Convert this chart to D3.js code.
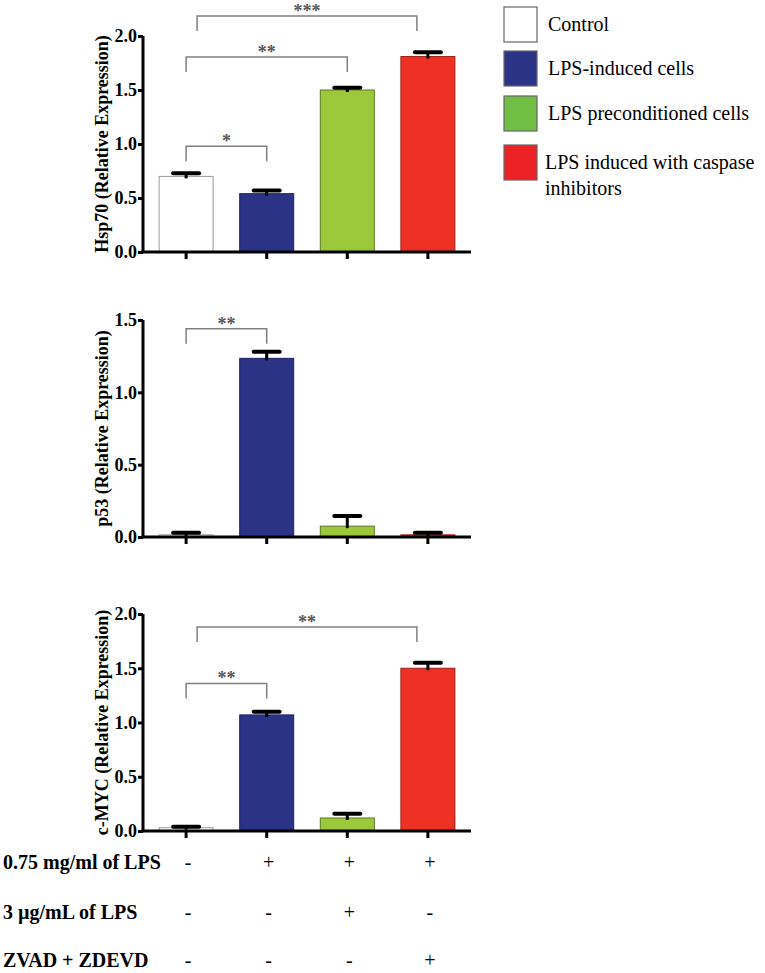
<!DOCTYPE html>
<html>
<head>
<meta charset="utf-8">
<script src="https://cdn.jsdelivr.net/npm/d3@7"></script>
<style>
  body { margin: 0; background: #fff; }
  svg { display: block; }
  .tick text { font-family: "Liberation Serif", "Times New Roman", serif; font-weight: bold; font-size: 18px; fill: #000; }
</style>
</head>
<body>
<svg id="chart" width="765" height="973"></svg>
<script>
// groups / legend entries
const groups = ["Control", "LPS-induced cells", "LPS preconditioned cells", "LPS induced with caspase inhibitors"];

// panel values (mean, upper error)
const hsp70Mean = [0.70, 0.54, 1.50, 1.81];
const hsp70Err = [0.03, 0.03, 0.02, 0.04];
const p53Mean = [0.015, 1.235, 0.075, 0.015];
const p53Err = [0.015, 0.045, 0.07, 0.015];
const mycMean = [0.03, 1.07, 0.12, 1.50];
const mycErr = [0.01, 0.03, 0.04, 0.05];

const hsp70Ticks = [0.0, 0.5, 1.0, 1.5, 2.0];
const p53Ticks = [0.0, 0.5, 1.0, 1.5];
const mycTicks = [0.0, 0.5, 1.0, 1.5, 2.0];

// significance brackets: [from group, to group, level, label]
const hsp70Sig = [[0, 3, 2.185, "***"], [0, 2, 1.805, "**"], [0, 1, 0.98, "*"]];
const p53Sig = [[0, 1, 1.44, "**"]];
const mycSig = [[0, 3, 1.88, "**"], [0, 1, 1.36, "**"]];

// treatment table
const treatments = ["0.75 mg/ml of LPS", "3 \u00b5g/mL of LPS", "ZVAD + ZDEVD"];
const lps075 = ["-", "+", "+", "+"];
const lps3 = ["-", "-", "+", "-"];
const zvad = ["-", "-", "-", "+"];

const barColors = ["#ffffff", "#2b3386", "#9cc93b", "#ee3124"];
const barStrokes = ["#999999", "#1c2160", "#5d7a22", "#a02018"];
const legendColors = ["#ffffff", "#2b3386", "#70bf44", "#ec2227"];
const serif = "'Liberation Serif', 'Times New Roman', serif";

const svg = d3.select("#chart");

const x = d3.scaleBand()
    .domain(d3.range(groups.length))
    .range([143, 471])
    .paddingInner(0.33)
    .paddingOuter(0.2);

const panels = [
    { label: "Hsp70 (Relative Expression)", mean: hsp70Mean, err: hsp70Err, ticks: hsp70Ticks, sig: hsp70Sig, top: 36, bottom: 252 },
    { label: "p53 (Relative Expression)", mean: p53Mean, err: p53Err, ticks: p53Ticks, sig: p53Sig, top: 320, bottom: 537 },
    { label: "c-MYC (Relative Expression)", mean: mycMean, err: mycErr, ticks: mycTicks, sig: mycSig, top: 614, bottom: 831 }
];

panels.forEach(p => {
    const y = d3.scaleLinear()
        .domain([0, d3.max(p.ticks)])
        .range([p.bottom, p.top]);
    const g = svg.append("g");

    // bars
    g.selectAll(".bar").data(p.mean).join("rect")
        .attr("x", (d, i) => x(i))
        .attr("width", x.bandwidth())
        .attr("y", d => y(d))
        .attr("height", d => y(0) - y(d))
        .attr("fill", (d, i) => barColors[i])
        .attr("stroke", (d, i) => barStrokes[i])
        .attr("stroke-width", 1);

    // error bars
    const cx = i => x(i) + x.bandwidth() / 2;
    g.selectAll(".stem").data(p.mean).join("line")
        .attr("x1", (d, i) => cx(i)).attr("x2", (d, i) => cx(i))
        .attr("y1", d => y(d) + 2)
        .attr("y2", (d, i) => y(d + p.err[i]))
        .attr("stroke", "#000").attr("stroke-width", 3);
    g.selectAll(".cap").data(p.mean).join("line")
        .attr("x1", (d, i) => cx(i) - 13).attr("x2", (d, i) => cx(i) + 13)
        .attr("y1", (d, i) => y(d + p.err[i]))
        .attr("y2", (d, i) => y(d + p.err[i]))
        .attr("stroke", "#000").attr("stroke-width", 4)
        .attr("stroke-linecap", "round");

    // axes
    const yAxis = g.append("g")
        .attr("transform", `translate(${x.range()[0]},0)`)
        .call(d3.axisLeft(y).tickValues(p.ticks).tickFormat(d3.format(".1f")).tickSize(5).tickPadding(1));
    yAxis.select(".domain").attr("stroke-width", 3).attr("d", `M0,${p.bottom}V${p.top}`);
    yAxis.selectAll(".tick line").attr("stroke-width", 3);

    const xAxis = g.append("g")
        .attr("transform", `translate(0,${p.bottom})`)
        .call(d3.axisBottom(x).tickSize(7).tickFormat(""));
    xAxis.select(".domain").attr("stroke-width", 3).attr("d", `M${x.range()[0] - 1.5},0H${x.range()[1]}`);
    xAxis.selectAll(".tick line").attr("stroke-width", 3);

    // y label
    g.append("text")
        .attr("transform", `translate(108,${(p.top + p.bottom) / 2}) rotate(-90)`)
        .attr("text-anchor", "middle")
        .style("font-family", serif)
        .style("font-weight", "bold")
        .style("font-size", "18px")
        .text(p.label);

    // significance brackets
    p.sig.forEach(([a, b, lvl, lab]) => {
        const inset = b - a > 2 ? 11 : 0;
        const x1 = cx(a) + inset, x2 = cx(b) - inset, yy = y(lvl);
        g.append("path")
            .attr("d", `M${x1},${yy + 15}V${yy}H${x2}V${yy + 15}`)
            .attr("fill", "none")
            .attr("stroke", "#808080")
            .attr("stroke-width", 1.5);
        g.append("text")
            .attr("x", (x1 + x2) / 2)
            .attr("y", yy + 1)
            .attr("text-anchor", "middle")
            .style("font-family", serif)
            .style("font-weight", "bold")
            .style("font-size", "18px")
            .style("fill", "#555")
            .text(lab);
    });
});

// legend
const legendY = [7, 51, 96, 145];
const legend = svg.append("g");
groups.forEach((name, i) => {
    legend.append("rect")
        .attr("x", 504).attr("y", legendY[i])
        .attr("width", 33).attr("height", 35)
        .attr("fill", legendColors[i])
        .attr("stroke", "#666").attr("stroke-width", 1.2);
    const words = i === 3 ? ["LPS induced with caspase", "inhibitors"] : [name];
    const t = legend.append("text")
        .attr("x", i === 3 ? 545 : 548)
        .attr("y", legendY[i] + 24)
        .style("font-family", serif)
        .style("font-size", "20px");
    words.forEach((w, k) => {
        t.append("tspan").attr("x", i === 3 ? 545 : 548).attr("dy", k ? 26 : 0).text(w);
    });
});

// treatment table
const rows = [lps075, lps3, zvad];
const rowY = [869, 919, 967];
treatments.forEach((name, r) => {
    svg.append("text")
        .attr("x", 3).attr("y", rowY[r])
        .style("font-family", serif)
        .style("font-weight", "bold")
        .style("font-size", "20px")
        .text(name);
    svg.selectAll(null).data(rows[r]).join("text")
        .attr("x", (d, i) => x(i) + x.bandwidth() / 2 + 2)
        .attr("y", rowY[r])
        .attr("text-anchor", "middle")
        .style("font-family", serif)
        .style("font-size", "20px")
        .text(d => d);
});
</script>
</body>
</html>
